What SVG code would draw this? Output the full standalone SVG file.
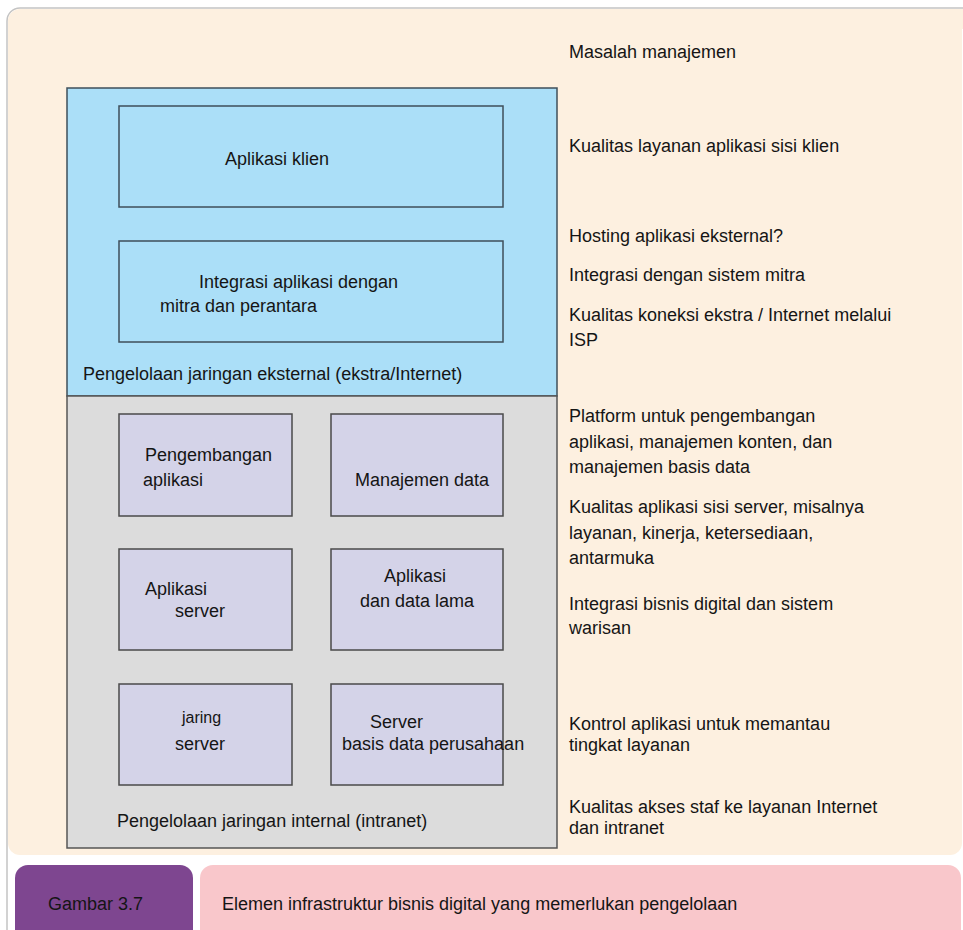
<svg xmlns="http://www.w3.org/2000/svg" width="963" height="930" viewBox="0 0 963 930">
<style>
text{font-family:"Liberation Sans",Arial,sans-serif;font-size:18px;fill:#151515}
.box{fill:#d4d3e8;stroke:#4a4a4a;stroke-width:1.5}
.ext{fill:#abdff8;stroke:#3f4f5a;stroke-width:1.5}
.small{font-size:16px}
</style>
<rect x="7" y="8" width="980" height="950" rx="13" fill="#ffffff" stroke="#c4c4c4" stroke-width="1.5"/>
<rect x="8" y="9" width="954" height="846" rx="12" fill="#fdf0e0"/>
<rect x="940" y="9" width="30" height="20" fill="#fdf0e0"/>
<g id="external">
<rect x="67" y="88" width="490" height="308" class="ext"/>
<text x="83" y="380">Pengelolaan jaringan eksternal (ekstra/Internet)</text>
</g>
<g id="internal">
<rect x="67" y="396" width="490" height="452" fill="#dcdcdc" stroke="#555" stroke-width="1.5"/>
<text x="117" y="827">Pengelolaan jaringan internal (intranet)</text>
</g>
<g id="aplikasi-klien">
<rect x="119" y="106" width="384" height="101" class="ext"/>
<text x="225" y="165">Aplikasi klien</text>
</g>
<g id="integrasi">
<rect x="119" y="241" width="384" height="101" class="ext"/>
<text x="199" y="288">Integrasi aplikasi dengan</text>
<text x="160" y="312">mitra dan perantara</text>
</g>
<g id="pengembangan">
<rect x="119" y="414" width="173" height="102" class="box"/>
<text x="145" y="461">Pengembangan</text>
<text x="143" y="486">aplikasi</text>
</g>
<g id="manajemen-data">
<rect x="331" y="414" width="172" height="102" class="box"/>
<text x="355" y="486">Manajemen data</text>
</g>
<g id="aplikasi-server">
<rect x="119" y="549" width="173" height="101" class="box"/>
<text x="145" y="595">Aplikasi</text>
<text x="175" y="617">server</text>
</g>
<g id="data-lama">
<rect x="331" y="549" width="172" height="101" class="box"/>
<text x="384" y="582">Aplikasi</text>
<text x="360" y="607">dan data lama</text>
</g>
<g id="jaring-server">
<rect x="119" y="684" width="173" height="101" class="box"/>
<text x="182" y="723" class="small">jaring</text>
<text x="175" y="750">server</text>
</g>
<g id="server-basis-data">
<rect x="331" y="684" width="172" height="101" class="box"/>
<text x="370" y="728">Server</text>
<text x="342" y="750">basis data perusahaan</text>
</g>
<g id="issues">
<text x="569" y="58">Masalah manajemen</text>
<text x="569" y="152">Kualitas layanan aplikasi sisi klien</text>
<text x="569" y="242">Hosting aplikasi eksternal?</text>
<text x="569" y="281">Integrasi dengan sistem mitra</text>
<text x="569" y="321">Kualitas koneksi ekstra / Internet melalui</text>
<text x="569" y="346">ISP</text>
<text x="569" y="422">Platform untuk pengembangan</text>
<text x="569" y="448">aplikasi, manajemen konten, dan</text>
<text x="569" y="473">manajemen basis data</text>
<text x="569" y="513">Kualitas aplikasi sisi server, misalnya</text>
<text x="569" y="539">layanan, kinerja, ketersediaan,</text>
<text x="569" y="564">antarmuka</text>
<text x="569" y="610">Integrasi bisnis digital dan sistem</text>
<text x="569" y="634">warisan</text>
<text x="569" y="730">Kontrol aplikasi untuk memantau</text>
<text x="569" y="751">tingkat layanan</text>
<text x="569" y="813">Kualitas akses staf ke layanan Internet</text>
<text x="569" y="834">dan intranet</text>
</g>
<g id="caption-label">
<rect x="15" y="865" width="178" height="80" rx="13" fill="#7e4690"/>
<text x="48" y="910">Gambar 3.7</text>
</g>
<g id="caption-text">
<rect x="200" y="865" width="761" height="80" rx="13" fill="#f9c7cb"/>
<text x="222" y="910">Elemen infrastruktur bisnis digital yang memerlukan pengelolaan</text>
</g>
<g id="connectors"></g>
</svg>
